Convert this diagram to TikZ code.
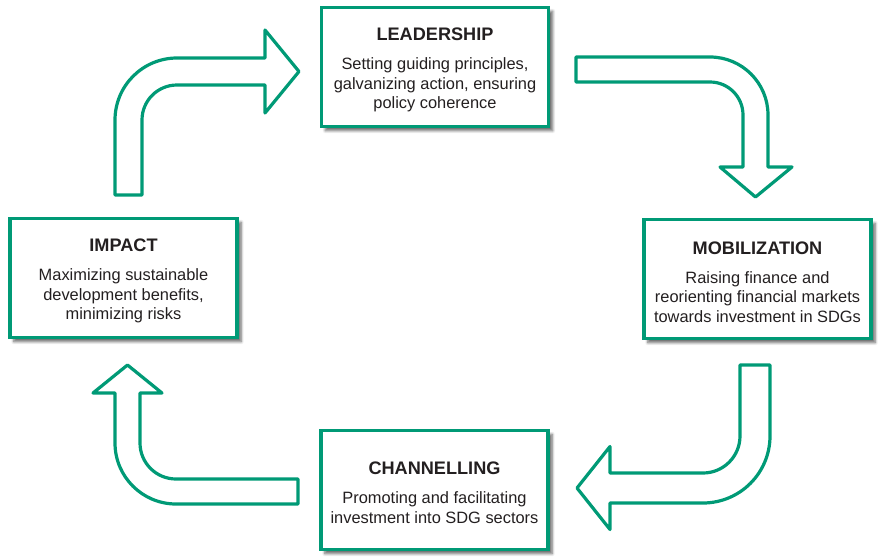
\documentclass[tikz,border=0pt]{standalone}
\usepackage{fontspec}
\setmainfont{Liberation Sans}
\usetikzlibrary{shadows.blur}
\definecolor{sdggreen}{RGB}{0,154,118}
\definecolor{sdgtext}{RGB}{35,31,32}
\newcommand{\boxhead}[1]{{\rule{0pt}{14pt}\fontsize{13.6}{16}\selectfont\bfseries #1}}

\begin{document}
\begin{tikzpicture}[x=0.75pt,y=0.75pt,yscale=-1,xscale=1,
    box/.style={draw=sdggreen, line width=2.6pt, fill=white, minimum width=170.5pt, minimum height=89.5pt, inner sep=0pt, align=center, text=sdgtext, font=\fontsize{12.3}{14.7}\selectfont, blur shadow={shadow xshift=3pt, shadow yshift=-3pt, shadow blur steps=6, shadow opacity=60}},
    bentarrow/.style={draw=sdggreen, line width=2.4pt, line join=round, fill=white}]
\useasboundingbox (0,0) rectangle (878,557); %set diagram to the size of the reference

%Shape: Bent Arrow, impact up to leadership
    \draw [bentarrow] (115,195) -- (115,120) .. controls (115,85.76) and (142.76,58) .. (177,58) -- (265,58) -- (265,30) -- (299,71.5) -- (265,113) -- (265,85) -- (177,85) .. controls (157.67,85) and (142,100.67) .. (142,120) -- (142,195) -- cycle ;
%Shape: Bent Arrow, leadership down to mobilization
    \draw [bentarrow] (576,57) -- (710,57) .. controls (742.03,57) and (768,82.97) .. (768,115) -- (768,167) -- (792,167) -- (755.5,197) -- (720,167) -- (743,167) -- (743,115) .. controls (743,96.77) and (728.23,82) .. (710,82) -- (576,82) -- cycle ;
%Shape: Bent Arrow, mobilization down to channelling
    \draw [bentarrow] (740,365) -- (770,365) -- (770,436) .. controls (770,473) and (740,503) .. (703,503) -- (610,503) -- (610,529.5) -- (577,488) -- (610,446.5) -- (610,473) -- (703,473) .. controls (723.43,473) and (740,456.43) .. (740,436) -- cycle ;
%Shape: Bent Arrow, channelling up to impact
    \draw [bentarrow] (298,479) -- (176,479) .. controls (156.12,479) and (140,462.88) .. (140,443) -- (140,393) -- (162,393) -- (127.5,365) -- (93,393) -- (115,393) -- (115,443) .. controls (115,476.69) and (142.31,504) .. (176,504) -- (298,504) -- cycle ;

% Text Node
    \draw (435,67) node [box] (lead) {\boxhead{LEADERSHIP}\\[7pt] Setting guiding principles,\\ galvanizing action, ensuring\\ policy coherence};
% Text Node
    \draw (757.5,279) node [box] (mob) {\boxhead{MOBILIZATION}\\[7pt] Raising finance and\\ reorienting financial markets\\ towards investment in SDGs};
% Text Node
    \draw (434.5,490) node [box] (chan) {\boxhead{CHANNELLING}\\[7pt] Promoting and facilitating\\ investment into SDG sectors};
% Text Node
    \draw (123.5,278) node [box] (impact) {\boxhead{IMPACT}\\[7pt] Maximizing sustainable\\ development benefits,\\ minimizing risks};

\end{tikzpicture}
\end{document}
